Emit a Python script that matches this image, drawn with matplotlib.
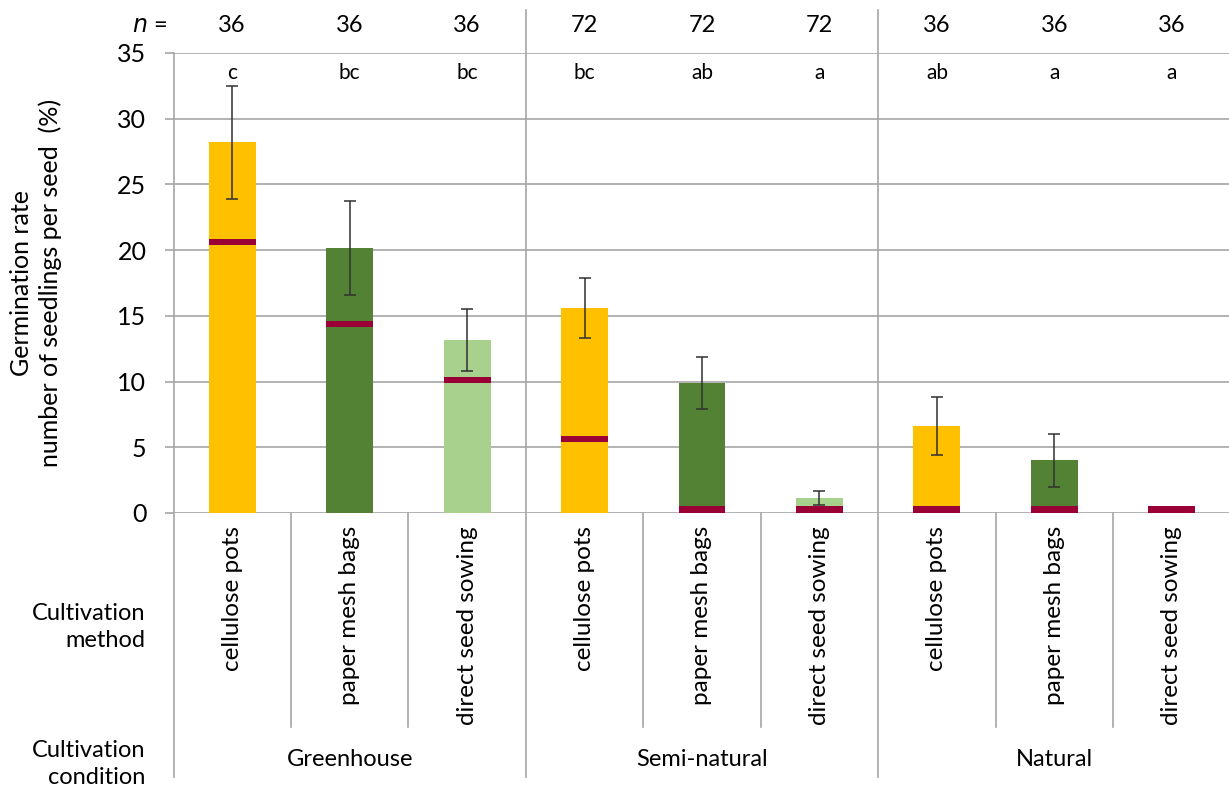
import matplotlib
matplotlib.use("Agg")
import matplotlib.pyplot as plt
import numpy as np

# ---- data ----
methods = ["cellulose pots", "paper mesh bags", "direct seed sowing"] * 3
conditions = ["Greenhouse", "Semi-natural", "Natural"]
means = [28.2, 20.15, 13.17, 15.6, 9.9, 1.14, 6.6, 4.0, 0.0]
errors = [4.3, 3.6, 2.33, 2.27, 2.0, 0.53, 2.2, 2.0, 0.0]
medians = [20.6, 14.35, 10.1, 5.6, 0.0, 0.0, 0.0, 0.0, 0.0]
n_values = ["36", "36", "36", "72", "72", "72", "36", "36", "36"]
letters = ["c", "bc", "bc", "bc", "ab", "a", "ab", "a", "a"]
yticks = [0, 5, 10, 15, 20, 25, 30, 35]

method_colors = {"cellulose pots": "#FFC000",
                 "paper mesh bags": "#548235",
                 "direct seed sowing": "#A9D18E"}
median_color = "#9A0036"
grid_color = "#A6A6A6"

plt.rcParams['font.family'] = ['Lato', 'DejaVu Sans']

W, H = 1229, 792
fig = plt.figure(figsize=(W / 100, H / 100), dpi=100)
ax_left, ax_right, ax_top, ax_bot = 173.5, 1230.5, 53, 513
ax = fig.add_axes([ax_left / W, 1 - ax_bot / H, (ax_right - ax_left) / W, (ax_bot - ax_top) / H])

x = np.arange(len(means))
colors = [method_colors[m] for m in methods]
ax.bar(x, means, width=0.4, color=colors, zorder=3)
# median markers
mh = 0.45
mb = [max(m - mh / 2, 0) for m in medians]
mhs = [0.5 if m == 0 else mh for m in medians]
ax.bar(x, mhs, bottom=mb, width=0.4, color=median_color, zorder=4)
# error bars
for xi, m, e in zip(x, means, errors):
    if e > 0:
        ax.errorbar(xi, m, yerr=e, fmt='none', ecolor='#303030', elinewidth=1.1,
                    capsize=4, capthick=1.1, zorder=5)

ax.set_xlim(-0.5, len(means) - 0.5)
ax.set_ylim(0, 35)
ax.set_yticks(yticks)
ax.set_yticklabels([str(t) for t in yticks], fontsize=18)
ax.yaxis.grid(True, color=grid_color, linewidth=1.2, zorder=0)
ax.tick_params(axis='y', length=6.5, width=1.2, color=grid_color, pad=13)
ax.set_xticks([])
for s in ax.spines.values():
    s.set_visible(False)

tr = ax.get_xaxis_transform()
def py(p):  # pixel y -> axes fraction
    return (ax_bot - p) / (ax_bot - ax_top)

# left vertical line
ax.plot([-0.5, -0.5], [py(53), py(777)], transform=tr, color=grid_color, lw=1.2, clip_on=False, zorder=2)
# category separators below axis
for i in range(len(means) - 1):
    b = i + 0.5
    if (i + 1) % 3 == 0:
        ax.plot([b, b], [py(10), py(777)], transform=tr, color=grid_color, lw=1.2, clip_on=False, zorder=2)
    else:
        ax.plot([b, b], [py(513), py(727)], transform=tr, color=grid_color, lw=1.2, clip_on=False, zorder=2)

# category labels
for xi, m in zip(x, methods):
    ax.text(xi, py(526), m, transform=tr, rotation=90, ha='center', va='top', fontsize=17.5)
# n values and letters
for xi, nv, lt in zip(x, n_values, letters):
    ax.text(xi, py(25), nv, transform=tr, ha='center', va='center', fontsize=17)
    ax.text(xi, py(73), lt, transform=tr, ha='center', va='center', fontsize=15)
fig.text(167 / W, 1 - 25 / H, r"$\it{n}$ =", ha='right', va='center', fontsize=17)
# group labels
for gi, c in enumerate(conditions):
    ax.text(gi * 3 + 1, py(760), c, transform=tr, ha='center', va='center', fontsize=17)

fig.text(145 / W, 1 - 627 / H, "Cultivation\nmethod", ha='right', va='center', fontsize=17,
         linespacing=1.38)
fig.text(145 / W, 1 - 764 / H, "Cultivation\ncondition", ha='right', va='center', fontsize=17,
         linespacing=1.38)

fig.text(36 / W, 1 - 283 / H, "Germination rate\nnumber of seedlings per seed  (%)",
         rotation=90, ha='center', va='center', fontsize=18, linespacing=1.25)

fig.savefig("out.png", dpi=100)
